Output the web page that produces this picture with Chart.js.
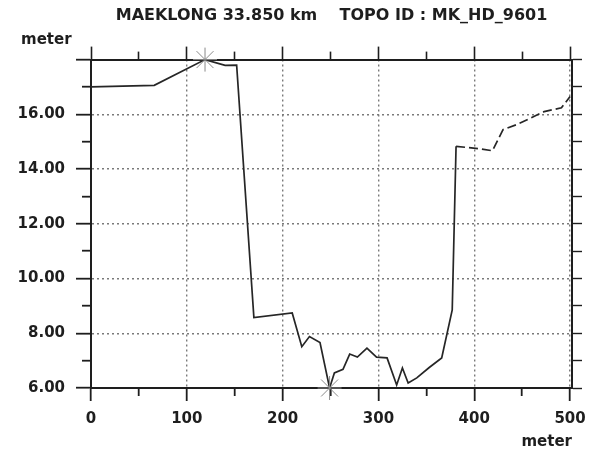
<!DOCTYPE html>
<html>
<head>
<meta charset="utf-8">
<title>MAEKLONG 33.850 km cross-section</title>
<script src="https://cdn.jsdelivr.net/npm/chart.js@4.4.1/dist/chart.umd.min.js"></script>
<style>
  body { margin: 0; background: #fff; }
  canvas { display: block; }
</style>
</head>
<body>
<canvas id="sectionChart" width="589" height="458"></canvas>
<script>
// surveyed cross-section: distance across the river (m) and ground level (m)
const distance = [0, 66, 119, 140, 152, 170, 210, 220, 228, 239, 249, 254, 263, 270, 278, 288, 298, 309,
                  319, 325, 331, 340, 353, 366, 377, 381, 406, 419, 430, 444, 473, 491, 500];
const level = [17.0, 17.06, 18.0, 17.79, 17.8, 8.57, 8.74, 7.51, 7.88, 7.66, 6.0, 6.55, 6.68, 7.24, 7.13, 7.46, 7.13, 7.1,
               6.11, 6.73, 6.18, 6.37, 6.75, 7.1, 8.85, 14.83, 14.74, 14.67, 15.44, 15.62, 16.1, 16.24, 16.65];
// stations marked with a star (bank top, deepest point)
const flagged = [119, 249];
// tick positions; labelled ones are listed separately
const xTicks = [0, 50, 100, 150, 200, 250, 300, 350, 400, 450, 500];
const xLabels = [0, 100, 200, 300, 400, 500];
const yTicks = [6, 7, 8, 9, 10, 11, 12, 13, 14, 15, 16, 17, 18];
const yLabels = [6, 8, 10, 12, 14, 16];
const xRange = [0, 502];
const yRange = [6, 18];

const ink = '#1e1e1e';
const dots = '#7a7a7a';
Chart.defaults.font.family = '"DejaVu Sans", sans-serif';
Chart.defaults.color = ink;

// horizontal "meter" over the y axis
const cornerLabel = {
  id: 'cornerLabel',
  afterDraw(chart) {
    const ctx = chart.ctx;
    ctx.save();
    ctx.font = 'bold 15px "DejaVu Sans"';
    ctx.fillStyle = ink;
    ctx.textBaseline = 'alphabetic';
    ctx.fillText('meter', 21, 44);
    ctx.restore();
  }
};

const useTicks = list => scale => { scale.ticks = list.map(v => ({ value: v })); };
const isMajorX = c => c.tick && xLabels.includes(c.tick.value);
const isMajorY = c => c.tick && c.tick.value % 2 === 0;

// minor ticks are shortened with a dash pattern; top/left ticks run outside-in
function shortTick(major, tl, len, outerFirst) {
  if (major) return [];
  return outerFirst ? [len, tl - len] : [len, tl + 20];
}

const ctx = document.getElementById('sectionChart');

new Chart(ctx, {
  type: 'line',
  data: {
    datasets: [{
      data: distance.map((d, i) => ({ x: d, y: level[i] })),
      borderColor: '#262626',
      borderWidth: 1.7,
      tension: 0,
      clip: false,
      pointStyle: 'star',
      pointRadius: c => flagged.includes(distance[c.dataIndex]) ? 12 : 0,
      pointBorderColor: '#8a8a8a',
      pointBorderWidth: 1,
      pointBackgroundColor: 'transparent',
      segment: {
        borderDash: c => c.p0DataIndex >= 25 ? [9, 4] : undefined
      }
    }]
  },
  plugins: [cornerLabel],
  options: {
    responsive: false,
    animation: false,
    devicePixelRatio: 1,
    layout: { padding: 0 },
    plugins: {
      legend: { display: false },
      tooltip: { enabled: false },
      title: {
        display: true,
        fullSize: false,
        text: 'MAEKLONG 33.850 km    TOPO ID : MK_HD_9601',
        color: ink,
        font: { size: 16, weight: 'bold' },
        padding: { top: 6, bottom: 0 }
      }
    },
    scales: {
      x: {
        type: 'linear',
        position: 'bottom',
        min: xRange[0],
        max: xRange[1],
        afterBuildTicks: useTicks(xTicks),
        // fixed band below the plot; end labels may overhang the frame
        afterFit: s => { s.height = 70; s.paddingLeft = 0; s.paddingRight = 0; },
        ticks: {
          autoSkip: false,
          maxRotation: 0,
          padding: 9,
          color: ink,
          font: { size: 15, weight: 'bold' },
          callback: v => xLabels.includes(v) ? String(v) : ''
        },
        grid: {
          color: c => (isMajorX(c) && c.tick.value > xRange[0]) ? dots : 'transparent',
          lineWidth: 1.4,
          tickLength: 13,
          tickColor: ink,
          tickWidth: 1.8,
          tickBorderDash: c => shortTick(isMajorX(c), 13, 7, false)
        },
        border: { display: true, color: ink, width: 2, dash: [2, 3] },
        title: {
          display: true,
          text: 'meter',
          align: 'end',
          color: ink,
          font: { size: 15, weight: 'bold' },
          padding: { top: 0, bottom: 7 }
        }
      },
      xTop: {
        type: 'linear',
        position: 'top',
        min: xRange[0],
        max: xRange[1],
        afterBuildTicks: useTicks(xTicks),
        afterFit: s => { s.height = 34.4; s.paddingLeft = 0; s.paddingRight = 0; },
        ticks: { display: false },
        grid: {
          drawOnChartArea: false,
          tickLength: 13,
          tickColor: ink,
          tickWidth: 1.6,
          tickBorderDash: c => shortTick(isMajorX(c), 13, 8, true),
          tickBorderDashOffset: c => isMajorX(c) ? 0 : 8
        },
        border: { display: true, color: ink, width: 2 }
      },
      y: {
        type: 'linear',
        position: 'left',
        min: yRange[0],
        max: yRange[1],
        afterBuildTicks: useTicks(yTicks),
        afterFit: s => { s.width = 91; },
        ticks: {
          autoSkip: false,
          padding: 11,
          color: ink,
          font: { size: 15, weight: 'bold' },
          callback: v => yLabels.includes(v) ? v.toFixed(2) : ''
        },
        grid: {
          color: c => (isMajorY(c) && c.tick.value > yRange[0] && c.tick.value < yRange[1]) ? dots : 'transparent',
          lineWidth: 1.4,
          tickLength: 15,
          tickColor: ink,
          tickWidth: 1.8,
          tickBorderDash: c => shortTick(isMajorY(c), 15, 9, true),
          tickBorderDashOffset: c => isMajorY(c) ? 0 : 9
        },
        border: { display: true, color: ink, width: 2, dash: [2, 3] }
      },
      yRight: {
        type: 'linear',
        position: 'right',
        min: yRange[0],
        max: yRange[1],
        afterBuildTicks: useTicks(yTicks),
        afterFit: s => { s.width = 17; },
        ticks: { display: false },
        grid: {
          drawOnChartArea: false,
          tickLength: 10,
          tickColor: ink,
          tickWidth: 1.4
        },
        border: { display: true, color: ink, width: 2 }
      }
    }
  }
});
</script>
</body>
</html>
